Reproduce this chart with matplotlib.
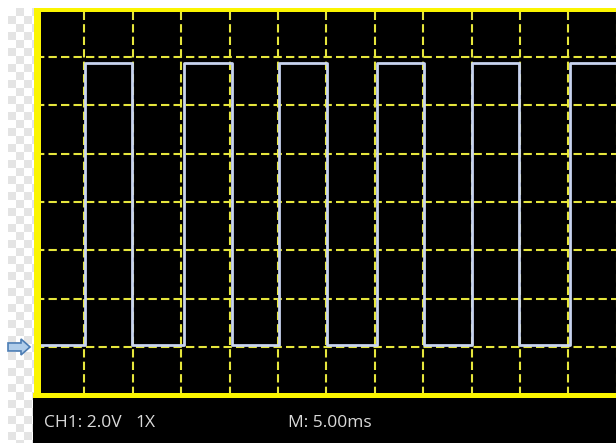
import numpy as np
import matplotlib
matplotlib.use("Agg")
import matplotlib.pyplot as plt
from matplotlib.patches import Rectangle, Polygon

t_ms = [0, 5.1, 9.95, 15.3, 20.2, 25.1, 30.05, 35.2, 40.1, 45.1, 49.9, 55.2, 60]
v_volts = [0.1, 11.75, 0.1, 11.75, 0.1, 11.75, 0.1, 11.75, 0.1, 11.75, 0.1, 11.75, 11.75]
time_per_div_ms = 5.0
volts_per_div = 2.0
n_hdiv = 12
n_vdiv = 8
ground_div = 1
ch_label = "CH1: 2.0V"
probe_label = "1X"
time_label = "M: 5.00ms"

plt.rcParams['lines.scale_dashes'] = False

W, H = 616, 443
DPI = 100
fig = plt.figure(figsize=(W / DPI, H / DPI), dpi=DPI)
fig.patch.set_facecolor('white')

# background axes in pixel coordinates
bg = fig.add_axes([0, 0, 1, 1], zorder=0)
bg.axis('off')

# checkerboard on the left (transparent-background look)
cell = 8
cols = int(np.ceil((35 - 8) / cell))
rows = int(np.ceil((H - 8) / cell))
chk = (np.add.outer(np.arange(rows), np.arange(cols)) % 2).astype(float)
bg.imshow(chk, cmap=matplotlib.colors.ListedColormap(['#ffffff', '#e4e4e4']),
          extent=(8, 8 + cols * cell, 8 + rows * cell, 8), interpolation='nearest',
          aspect='auto', zorder=1)
bg.set_xlim(0, W)
bg.set_ylim(H, 0)
# bottom info bar
bg.add_patch(Rectangle((33, 396), W - 33, H - 396, facecolor='black', edgecolor='none', zorder=2))

# scope screen axes
left_px, right_px, top_px, bot_px = 36.0, 616.7, 8.7, 395.3
ax = fig.add_axes([left_px / W, (H - bot_px) / H, (right_px - left_px) / W, (bot_px - top_px) / H], zorder=1)
ax.set_facecolor('black')
ax.set_xlim(0, n_hdiv * time_per_div_ms)
ax.set_ylim(-ground_div * volts_per_div, (n_vdiv - ground_div) * volts_per_div)
ax.set_xticks(np.arange(0, n_hdiv + 1) * time_per_div_ms)
ax.set_yticks(np.arange(-ground_div, n_vdiv - ground_div + 1) * volts_per_div)
ax.grid(True, color='#e6e63c', linestyle=(0, (6, 3)), linewidth=1.5)
ax.tick_params(length=0, labelbottom=False, labelleft=False)
for s in ax.spines.values():
    s.set_visible(False)
ax.step(t_ms, v_volts, where='post', color='#c8d4f0', linewidth=2.0, zorder=3)

# overlay in pixel coordinates: borders, arrow, text
ov = fig.add_axes([0, 0, 1, 1], zorder=5)
ov.set_xlim(0, W)
ov.set_ylim(H, 0)
ov.axis('off')
ov.patch.set_alpha(0)
yellow = '#fbf500'
ov.add_patch(Rectangle((35, 8), W - 35, 4, facecolor=yellow, edgecolor='none'))
ov.add_patch(Rectangle((34, 8), 7, 398 - 8, facecolor=yellow, edgecolor='none'))
ov.add_patch(Rectangle((33, 393), W - 33, 5, facecolor=yellow, edgecolor='none'))

# ground marker arrow at 0 V level
gy = ov.transData.inverted().transform(ax.transData.transform((0, 0)))[1]
arrow = [(8, gy - 4), (21, gy - 4), (21, gy - 8), (30, gy), (21, gy + 8), (21, gy + 4), (8, gy + 4)]
ov.add_patch(Polygon(arrow, closed=True, facecolor='#b0cdea', edgecolor='#4c7db4', linewidth=1.2))

txt_kw = dict(color='#dadada', fontsize=12.5, family=['Open Sans', 'DejaVu Sans'], va='baseline', ha='left')
ov.text(44, 427, ch_label, **txt_kw)
ov.text(135, 427, probe_label, **txt_kw)
ov.text(288, 427, time_label, **txt_kw)

fig.savefig('out.png', dpi=DPI)
